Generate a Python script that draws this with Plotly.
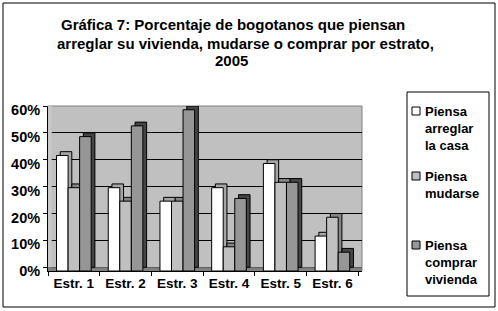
import plotly.graph_objects as go

# ---------------- data ----------------
categories = ["Estr. 1", "Estr. 2", "Estr. 3", "Estr. 4", "Estr. 5", "Estr. 6"]
arreglar = [43, 31, 26, 31, 40, 13]
mudarse = [31, 26, 26, 9, 33, 20]
comprar = [50, 54, 60, 27, 33, 7]
series_names = ["Piensa<br>arreglar<br>la casa", "Piensa<br>mudarse", "Piensa<br>comprar<br>vivienda"]
y_tick_values = [0, 10, 20, 30, 40, 50, 60]
y_tick_labels = [f"{v}%" for v in y_tick_values]
title_lines = ["Gráfica 7: Porcentaje de bogotanos que piensan",
               "arreglar su vivienda, mudarse o comprar por estrato,",
               "2005"]

# ---------------- styling ----------------
W, H = 498, 311
L, R, T, B = 48, 136, 106, 40
PW, PH = W - L - R, H - T - B
FONT = "Liberation Sans, Arial, sans-serif"
face_colors = ["#ffffff", "#c0c0c0", "#969696"]
side_colors = ["#a6a6a6", "#858585", "#454545"]
depth_y = 1.4      # 3D depth in value units
depth_x = 0.072    # 3D depth in category units
bar_w = 0.2233
start = -0.335


def px_x(px):
    return (px - L) / PW


def px_y(py):
    return (H - B - py) / PH


fig = go.Figure()
all_series = [arreglar, mudarse, comprar]
for k, (vals, name) in enumerate(zip(all_series, series_names)):
    off = start + k * bar_w
    # depth (top + side) face
    fig.add_trace(go.Bar(
        x=categories, y=vals, base=[0] * len(vals),
        offset=off + depth_x, width=bar_w,
        marker=dict(color=side_colors[k], line=dict(color="black", width=1)),
        showlegend=False, hoverinfo="skip"))
    # front face
    fig.add_trace(go.Bar(
        x=categories, y=vals, base=[-depth_y] * len(vals),
        offset=off, width=bar_w, name=name.replace("<br>", " "),
        marker=dict(color=face_colors[k], line=dict(color="black", width=1)),
        showlegend=False))

shapes = []
# floor of the 3D box
shapes.append(dict(type="rect", xref="x", yref="y", x0=-0.5, x1=5.5 + depth_x,
                   y0=-depth_y, y1=0, fillcolor="#808080",
                   line=dict(width=0), layer="between"))
# left side wall
shapes.append(dict(type="rect", xref="x", yref="y", x0=-0.5, x1=-0.5 + depth_x,
                   y0=0, y1=60, fillcolor="#c8c8c8",
                   line=dict(width=0), layer="between"))
# plot area border (right / top)
shapes.append(dict(type="rect", xref="paper", yref="paper", x0=0, x1=1, y0=0, y1=1,
                   line=dict(color="#808080", width=1), layer="below"))
# outer frame
shapes.append(dict(type="rect", xref="paper", yref="paper",
                   x0=px_x(3), x1=px_x(495), y0=px_y(307), y1=px_y(3),
                   line=dict(color="black", width=1)))
# legend box
shapes.append(dict(type="rect", xref="paper", yref="paper",
                   x0=px_x(407), x1=px_x(489), y0=px_y(296), y1=px_y(92),
                   line=dict(color="black", width=1), fillcolor="white"))

annotations = []
legend_first_line = [111, 176, 245]
for k, name in enumerate(series_names):
    yc = legend_first_line[k]
    shapes.append(dict(type="rect", xref="paper", yref="paper",
                       x0=px_x(412), x1=px_x(420), y0=px_y(yc + 4), y1=px_y(yc - 4),
                       fillcolor=face_colors[k], line=dict(color="black", width=1)))
    annotations.append(dict(xref="paper", yref="paper", x=px_x(423),
                            y=px_y(yc - 9), xanchor="left", yanchor="top",
                            text=name, showarrow=False, align="left",
                            font=dict(family=FONT, size=13, color="black", weight="bold")))

title_centers_x = [233, 245, 231]
title_centers_y = [25, 43, 60.5]
for line, cx, cy in zip(title_lines, title_centers_x, title_centers_y):
    annotations.append(dict(xref="paper", yref="paper", x=px_x(cx), y=px_y(cy),
                            xanchor="center", yanchor="middle", text=line,
                            showarrow=False,
                            font=dict(family=FONT, size=15, color="black", weight="bold")))

fig.update_layout(
    width=W, height=H,
    margin=dict(l=L, r=R, t=T, b=B),
    paper_bgcolor="white", plot_bgcolor="#c0c0c0",
    barmode="overlay",
    font=dict(family=FONT, color="black"),
    shapes=shapes, annotations=annotations,
    showlegend=False,
    xaxis=dict(type="category", categoryorder="array", categoryarray=categories,
               range=[-0.5, 5.5 + depth_x], showgrid=False, zeroline=False,
               showline=True, linecolor="black", linewidth=1, automargin=False,
               ticks="outside", tickson="boundaries", ticklen=4, tickcolor="black",
               tickfont=dict(family=FONT, size=13.5, color="black", weight="bold")),
    yaxis=dict(range=[-depth_y, 60], tickmode="array", tickvals=y_tick_values,
               ticktext=y_tick_labels, ticklabelshift=4,
               showgrid=True, gridcolor="black", gridwidth=1, automargin=False,
               zeroline=False, showline=True, linecolor="black", linewidth=1,
               ticks="outside", ticklen=4, tickcolor="black",
               tickfont=dict(family=FONT, size=14.5, color="black", weight="bold")),
)

fig.write_html("out.html", config={"displayModeBar": False},
               post_script="document.body.style.margin='0';")
